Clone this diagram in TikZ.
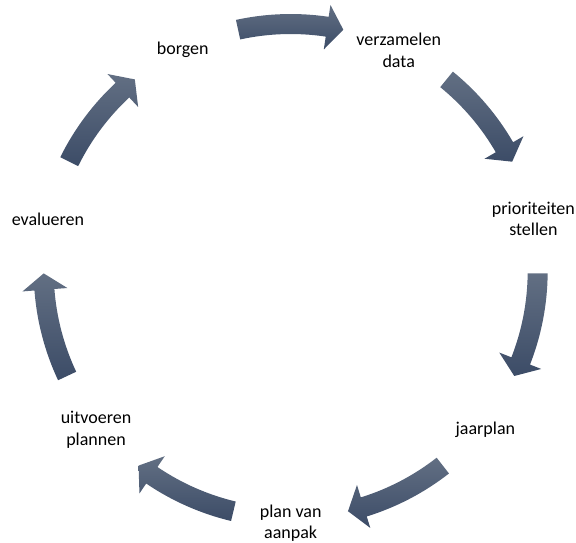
\documentclass[tikz,border=0pt]{standalone}
\usepackage{fontspec}
\setmainfont{Carlito}
\usepackage{tikz}
\usetikzlibrary{calc}
\definecolor{arrtop}{RGB}{98,111,131}
\definecolor{arrbot}{RGB}{60,76,103}
\tikzset{
  lbl/.style={align=center,font=\fontsize{13.5}{16}\selectfont,inner sep=0pt},
  cyc/.style={top color=arrtop,bottom color=arrbot,draw=none},
}
% curved block arrow, centred on angle #1, running clockwise
\newcommand{\cycarrow}[1]{%
  \pgfmathsetmacro{\ta}{#1+12.3}%
  \pgfmathsetmacro{\tb}{#1-12.3+3.8}%
  \pgfmathsetmacro{\tc}{#1-12.3}%
  \path[cyc] (\ta:257) arc[start angle=\ta,end angle=\tb,radius=257]
    -- (\tb:269) -- (\tc:247) -- (\tb:224) -- (\tb:237)
    arc[start angle=\tb,end angle=\ta,radius=237] -- cycle;}

\begin{document}
\begin{tikzpicture}[x=0.75pt,y=0.75pt]
\useasboundingbox (-290.7,-272) rectangle (285.3,271);
\coordinate (c) at (0,-3.5);
\foreach \name/\ang/\txt in {verzamelen/64.29/{verzamelen\\data},
    prioriteiten/12.86/{prioriteiten\\stellen},
    jaarplan/-38.57/{jaarplan},
    aanpak/-90/{plan van\\aanpak},
    uitvoeren/-141.43/{uitvoeren\\plannen},
    evalueren/167.14/{evalueren},
    borgen/115.71/{borgen}}
  \node[lbl] (\name) at ($(c)+(\ang:249)$) {\txt};
\foreach \k in {0,...,6}{
  \cycarrow{90-51.4286*\k}
}
\end{tikzpicture}
\end{document}
